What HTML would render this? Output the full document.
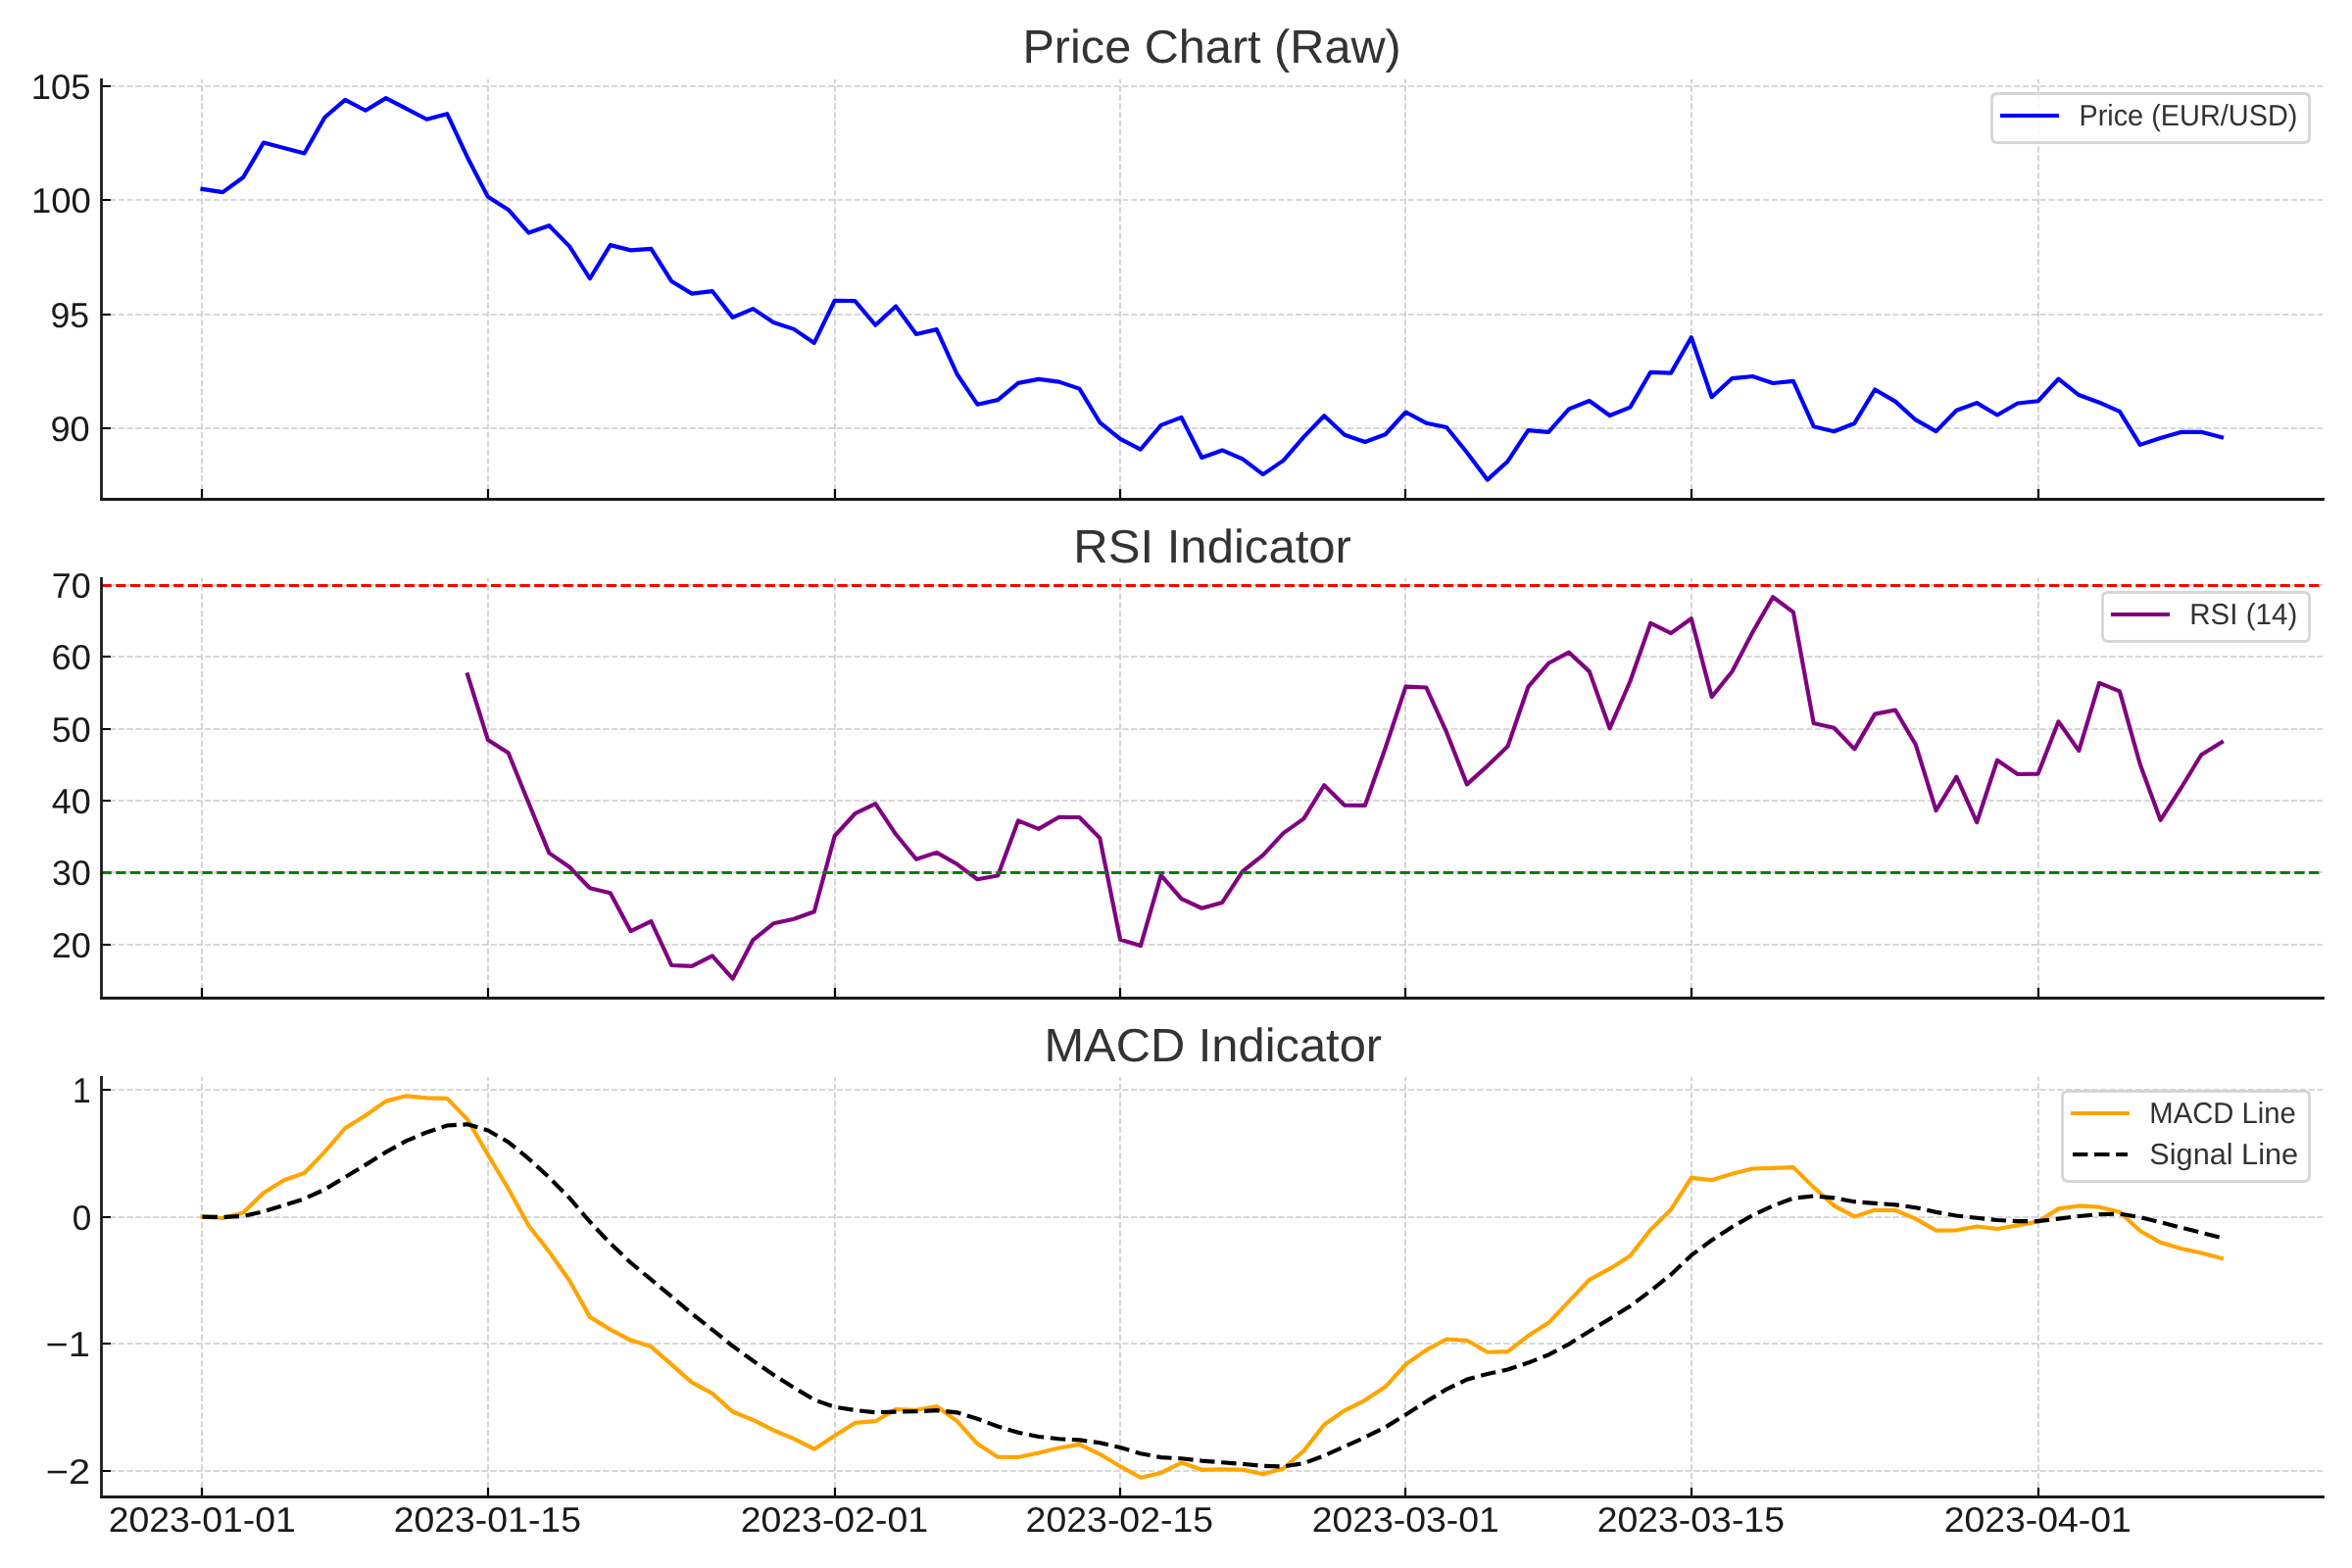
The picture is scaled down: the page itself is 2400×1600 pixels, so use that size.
<!DOCTYPE html>
<html lang="en">
<head>
<meta charset="utf-8">
<title>Price / RSI / MACD chart</title>
<style>
html,body{margin:0;padding:0;background:#ffffff;}
body{width:2400px;height:1600px;overflow:hidden;}
svg{display:block;}
text{font-family:"Liberation Sans",sans-serif;white-space:pre;text-rendering:geometricPrecision;}
.g{stroke:#cccccc;stroke-width:1.6667;stroke-dasharray:6.1667 2.6667;fill:none;}
.k{stroke:#000000;stroke-width:2.2222;fill:none;}
.s{stroke:#1a1a1a;stroke-width:2.7778;stroke-linecap:square;fill:none;}
.d{fill:none;stroke-linejoin:round;}
.tx{will-change:opacity;filter:opacity(1);}
.t{fill:#333333;}
.l{fill:#1a1a1a;}
.lg{fill:#333333;}
.fr{fill:#ffffff;fill-opacity:0.8;stroke:#cccccc;stroke-opacity:0.8;stroke-width:2.7778;stroke-linejoin:miter;}
</style>
</head>
<body>
<svg width="2400" height="1600" viewBox="0 0 2400 1600">
<rect x="0" y="0" width="2400" height="1600" fill="#ffffff"/>
<!-- Price chart -->
<g>
<path class="g" d="M206 509V81M498 509V81M852 509V81M1143 509V81M1434 509V81M1726 509V81M2080 509V81"/>
<path class="k" d="M206 509V499M498 509V499M852 509V499M1143 509V499M1434 509V499M1726 509V499M2080 509V499"/>
<path class="g" d="M103 437H2370M103 321H2370M103 204H2370M103 88H2370"/>
<path class="k" d="M103 437H113M103 321H113M103 204H113M103 88H113"/>
<path class="d" stroke="#0000ff" stroke-width="4.1667" stroke-linecap="square" d="M206.5 192.9L227.31 196.12L248.12 181.04L268.93 145.58L289.75 151.03L310.56 156.48L331.37 119.71L352.19 101.84L373 112.77L393.81 100.14L414.63 110.93L435.44 121.77L456.25 116.14L477.06 160.69L497.88 200.85L518.69 213.95L539.5 237.53L560.32 230.21L581.13 251.35L601.94 284.24L622.75 250.11L643.57 255.37L664.38 253.8L685.19 286.97L706.01 299.65L726.82 297.06L747.63 323.86L768.45 315.11L789.26 329.1L810.07 335.89L830.88 349.9L851.7 306.77L872.51 307.09L893.32 331.72L914.14 312.56L934.95 340.99L955.76 336.13L976.57 381.76L997.39 412.68L1018.2 408.1L1039.01 390.9L1059.83 386.91L1080.64 389.61L1101.45 396.62L1122.27 431.04L1143.08 447.8L1163.89 458.53L1184.7 433.91L1205.52 425.91L1226.33 466.96L1247.14 459.42L1267.96 468.38L1288.77 484.15L1309.58 469.9L1330.39 445.9L1351.21 424.21L1372.02 443.75L1392.83 450.95L1413.65 443.24L1434.46 420.53L1455.27 431.68L1476.08 436.01L1496.9 461.77L1517.71 489.62L1538.52 470.7L1559.34 439.12L1580.15 440.8L1600.96 417.43L1621.78 409.01L1642.59 424.03L1663.4 415.62L1684.21 379.81L1705.03 380.64L1725.84 344.21L1746.65 405.21L1767.47 386.07L1788.28 384.04L1809.09 391L1829.9 388.87L1850.72 435.15L1871.53 440.26L1892.34 431.95L1913.16 397.54L1933.97 409.6L1954.78 428.43L1975.6 440.11L1996.41 418.8L2017.22 411.14L2038.03 423.48L2058.85 411.53L2079.66 409.27L2100.47 386.71L2121.29 403.06L2142.1 410.69L2162.91 419.82L2183.72 453.89L2204.54 447L2225.35 440.92L2246.16 440.8L2266.98 446.26"/>
<path class="s" d="M103.5 509.5V81.5"/>
<path class="s" d="M103.5 509.5H2370.5"/>
</g>
<!-- RSI indicator -->
<g>
<path class="g" d="M206 1018V590M498 1018V590M852 1018V590M1143 1018V590M1434 1018V590M1726 1018V590M2080 1018V590"/>
<path class="k" d="M206 1018V1008M498 1018V1008M852 1018V1008M1143 1018V1008M1434 1018V1008M1726 1018V1008M2080 1018V1008"/>
<path class="g" d="M103 964H2370M103 890H2370M103 817H2370M103 744H2370M103 670H2370M103 597H2370"/>
<path class="k" d="M103 964H113M103 890H113M103 817H113M103 744H113M103 670H113M103 597H113"/>
<path class="d" stroke="#800080" stroke-width="4.1667" stroke-linecap="square" d="M477.06 688.45L497.88 755L518.69 768.27L539.5 819.46L560.32 870.35L581.13 884.81L601.94 906.32L622.75 911.22L643.57 950.08L664.38 940L685.19 984.99L706.01 985.82L726.82 975.28L747.63 998.71L768.45 959.05L789.26 942.29L810.07 937.69L830.88 930.2L851.7 852.99L872.51 830.24L893.32 820.08L914.14 851.3L934.95 876.77L955.76 869.89L976.57 881.8L997.39 897.28L1018.2 893.45L1039.01 837.37L1059.83 845.88L1080.64 833.74L1101.45 833.98L1122.27 855.15L1143.08 958.78L1163.89 965.08L1184.7 893.06L1205.52 917.08L1226.33 926.76L1247.14 920.98L1267.96 889.14L1288.77 872.61L1309.58 850.1L1330.39 835.42L1351.21 801.22L1372.02 821.72L1392.83 821.94L1413.65 763.21L1434.46 700.7L1455.27 701.46L1476.08 747.14L1496.9 800.37L1517.71 781.62L1538.52 761.57L1559.34 700.98L1580.15 676.77L1600.96 665.69L1621.78 685.14L1642.59 743.25L1663.4 695.29L1684.21 635.91L1705.03 646.08L1725.84 631.26L1746.65 711.07L1767.47 685.19L1788.28 645.3L1809.09 609.23L1829.9 624.69L1850.72 738.09L1871.53 742.82L1892.34 764.37L1913.16 728.6L1933.97 724.55L1954.78 759.8L1975.6 827.04L1996.41 792.59L2017.22 839.2L2038.03 775.76L2058.85 790.03L2079.66 789.55L2100.47 736.28L2121.29 766.09L2142.1 696.88L2162.91 705.34L2183.72 779.81L2204.54 836.82L2225.35 804.48L2246.16 770.27L2266.98 757.34"/>
<path class="d" stroke="#ff0000" stroke-width="2.7778" stroke-dasharray="10.2778 4.4444" stroke-linecap="butt" d="M103.5 597.5L2370.5 597.5"/>
<path class="d" stroke="#008000" stroke-width="2.7778" stroke-dasharray="10.2778 4.4444" stroke-linecap="butt" d="M103.5 890.5L2370.5 890.5"/>
<path class="s" d="M103.5 1018.5V590.5"/>
<path class="s" d="M103.5 1018.5H2370.5"/>
</g>
<!-- MACD indicator -->
<g>
<path class="g" d="M206 1527V1099M498 1527V1099M852 1527V1099M1143 1527V1099M1434 1527V1099M1726 1527V1099M2080 1527V1099"/>
<path class="k" d="M206 1527V1518M498 1527V1518M852 1527V1518M1143 1527V1518M1434 1527V1518M1726 1527V1518M2080 1527V1518"/>
<path class="g" d="M103 1501H2370M103 1371H2370M103 1242H2370M103 1112H2370"/>
<path class="k" d="M103 1501H113M103 1371H113M103 1242H113M103 1112H113"/>
<path class="d" stroke="#ffa500" stroke-width="4.1667" stroke-linecap="square" d="M206.5 1241.6L227.31 1243.03L248.12 1237.43L268.93 1217.35L289.75 1204.31L310.56 1196.94L331.37 1175.35L352.19 1151.25L373 1138.26L393.81 1123.64L414.63 1118.33L435.44 1120.38L456.25 1120.87L477.06 1142.42L497.88 1178.26L518.69 1212.88L539.5 1250.81L560.32 1277.17L581.13 1306.8L601.94 1343.88L622.75 1356.61L643.57 1367.61L664.38 1374.09L685.19 1392.39L706.01 1410.64L726.82 1421.86L747.63 1440.51L768.45 1448.96L789.26 1459.43L810.07 1468.17L830.88 1478.65L851.7 1465.01L872.51 1451.92L893.32 1450.2L914.14 1437.97L934.95 1438.78L955.76 1435L976.57 1450.1L997.39 1473.29L1018.2 1486.79L1039.01 1486.93L1059.83 1482.47L1080.64 1477.43L1101.45 1473.9L1122.27 1483.78L1143.08 1496.21L1163.89 1507.8L1184.7 1502.92L1205.52 1492.57L1226.33 1499.83L1247.14 1499.22L1267.96 1499.79L1288.77 1504.29L1309.58 1498.5L1330.39 1480.38L1351.21 1453.83L1372.02 1439.29L1392.83 1428.84L1413.65 1415.09L1434.46 1392.25L1455.27 1377.6L1476.08 1366.49L1496.9 1367.81L1517.71 1379.76L1538.52 1379.16L1559.34 1363.09L1580.15 1349.86L1600.96 1327.89L1621.78 1305.95L1642.59 1294.7L1663.4 1281.54L1684.21 1254.87L1705.03 1234.2L1725.84 1201.91L1746.65 1204.15L1767.47 1197.83L1788.28 1192.48L1809.09 1191.94L1829.9 1191.14L1850.72 1211.63L1871.53 1230.3L1892.34 1241.37L1913.16 1234.76L1933.97 1235.01L1954.78 1243.65L1975.6 1255.58L1996.41 1255.31L2017.22 1251.53L2038.03 1253.94L2058.85 1250.38L2079.66 1246.49L2100.47 1233.37L2121.29 1230.44L2142.1 1231.66L2162.91 1236.78L2183.72 1255.99L2204.54 1267.81L2225.35 1274.07L2246.16 1278.55L2266.98 1284.07"/>
<path class="d" stroke="#000000" stroke-width="4.1667" stroke-dasharray="15.4167 6.6667" stroke-linecap="butt" d="M206.5 1241.6L227.31 1241.88L248.12 1240.99L268.93 1236.27L289.75 1229.87L310.56 1223.29L331.37 1213.7L352.19 1201.21L373 1188.62L393.81 1175.62L414.63 1164.16L435.44 1155.41L456.25 1148.5L477.06 1147.28L497.88 1153.48L518.69 1165.36L539.5 1182.45L560.32 1201.39L581.13 1222.48L601.94 1246.76L622.75 1268.73L643.57 1288.5L664.38 1305.62L685.19 1322.97L706.01 1340.51L726.82 1356.78L747.63 1373.52L768.45 1388.61L789.26 1402.77L810.07 1415.85L830.88 1428.41L851.7 1435.73L872.51 1438.97L893.32 1441.22L914.14 1440.57L934.95 1440.21L955.76 1439.17L976.57 1441.36L997.39 1447.74L1018.2 1455.55L1039.01 1461.83L1059.83 1465.96L1080.64 1468.25L1101.45 1469.38L1122.27 1472.26L1143.08 1477.05L1163.89 1483.2L1184.7 1487.15L1205.52 1488.23L1226.33 1490.55L1247.14 1492.28L1267.96 1493.79L1288.77 1495.89L1309.58 1496.41L1330.39 1493.2L1351.21 1485.33L1372.02 1476.12L1392.83 1466.66L1413.65 1456.35L1434.46 1443.53L1455.27 1430.34L1476.08 1417.57L1496.9 1407.62L1517.71 1402.05L1538.52 1397.47L1559.34 1390.59L1580.15 1382.45L1600.96 1371.54L1621.78 1358.42L1642.59 1345.67L1663.4 1332.85L1684.21 1317.25L1705.03 1300.64L1725.84 1280.89L1746.65 1265.55L1767.47 1252L1788.28 1240.1L1809.09 1230.47L1829.9 1222.6L1850.72 1220.41L1871.53 1222.39L1892.34 1226.18L1913.16 1227.9L1933.97 1229.32L1954.78 1232.19L1975.6 1236.87L1996.41 1240.55L2017.22 1242.75L2038.03 1244.99L2058.85 1246.07L2079.66 1246.15L2100.47 1243.59L2121.29 1240.96L2142.1 1239.1L2162.91 1238.64L2183.72 1242.11L2204.54 1247.25L2225.35 1252.61L2246.16 1257.8L2266.98 1263.05"/>
<path class="s" d="M103.5 1527.5V1099.5"/>
<path class="s" d="M103.5 1527.5H2370.5"/>
</g>
<!-- tick labels and titles -->
<g class="tx">
<text class="t" font-size="47.8" transform="translate(1043.38 64) scale(1.0174 1)">Price Chart (Raw)</text>
<text class="l" font-size="35.9" transform="translate(51.47 450) scale(1.0075 1)">90</text>
<text class="l" font-size="35.9" transform="translate(51.43 334) scale(0.9938 1)">95</text>
<text class="l" font-size="35.9" transform="translate(31.94 217) scale(1.0172 1)">100</text>
<text class="l" font-size="35.9" transform="translate(31.74 101) scale(1.0154 1)">105</text>
<text class="t" font-size="47.8" transform="translate(1095.28 574) scale(1.0267 1)">RSI Indicator</text>
<text class="l" font-size="35.9" transform="translate(52.67 977) scale(1.0042 1)">20</text>
<text class="l" font-size="35.9" transform="translate(53.1 903) scale(0.9916 1)">30</text>
<text class="l" font-size="35.9" transform="translate(52.72 830) scale(1.0011 1)">40</text>
<text class="l" font-size="35.9" transform="translate(52.79 757) scale(0.9990 1)">50</text>
<text class="l" font-size="35.9" transform="translate(52.48 683) scale(1.0097 1)">60</text>
<text class="l" font-size="35.9" transform="translate(52.79 610) scale(0.9994 1)">70</text>
<text class="t" font-size="47.8" transform="translate(1065.43 1083) scale(1.0217 1)">MACD Indicator</text>
<text class="l" font-size="35.9" transform="translate(46.65 1514) scale(1.1104 1)">−2</text>
<text class="l" font-size="35.9" transform="translate(46.62 1384) scale(1.1095 1)">−1</text>
<text class="l" font-size="35.9" transform="translate(73.87 1255) scale(0.9788 1)">0</text>
<text class="l" font-size="35.9" transform="translate(73.98 1125) scale(0.9378 1)">1</text>
<text class="l" font-size="35.9" transform="translate(110.63 1563) scale(1.0416 1)">2023-01-01</text>
<text class="l" font-size="35.9" transform="translate(401.63 1563) scale(1.0423 1)">2023-01-15</text>
<text class="l" font-size="35.9" transform="translate(755.63 1563) scale(1.0430 1)">2023-02-01</text>
<text class="l" font-size="35.9" transform="translate(1046.62 1563) scale(1.0431 1)">2023-02-15</text>
<text class="l" font-size="35.9" transform="translate(1338.63 1563) scale(1.0416 1)">2023-03-01</text>
<text class="l" font-size="35.9" transform="translate(1629.63 1563) scale(1.0423 1)">2023-03-15</text>
<text class="l" font-size="35.9" transform="translate(1983.63 1563) scale(1.0416 1)">2023-04-01</text>
</g>
<!-- legend 1 -->
<g>
<path class="fr" d="M2038.5 95.5H2351.5Q2356.5 95.5 2356.5 100.5V139.5Q2356.5 145.5 2351.5 145.5H2038.5Q2032.5 145.5 2032.5 139.5V100.5Q2032.5 95.5 2038.5 95.5Z"/>
<path class="d" stroke="#0000ff" stroke-width="4.1667" stroke-linecap="square" d="M2043 118H2099"/>
<g class="tx">
<text class="lg" font-size="30.3" transform="translate(2121.38 128) scale(0.9533 1)">Price (EUR/USD)</text>
</g>
</g>
<!-- legend 2 -->
<g>
<path class="fr" d="M2151.5 604.5H2351.5Q2356.5 604.5 2356.5 609.5V648.5Q2356.5 654.5 2351.5 654.5H2151.5Q2145.5 654.5 2145.5 648.5V609.5Q2145.5 604.5 2151.5 604.5Z"/>
<path class="d" stroke="#800080" stroke-width="4.1667" stroke-linecap="square" d="M2156 627H2212"/>
<g class="tx">
<text class="lg" font-size="30.3" transform="translate(2234.28 637) scale(0.9755 1)">RSI (14)</text>
</g>
</g>
<!-- legend 3 -->
<g>
<path class="fr" d="M2110.5 1113.5H2351.5Q2356.5 1113.5 2356.5 1118.5V1199.5Q2356.5 1205.5 2351.5 1205.5H2110.5Q2104.5 1205.5 2104.5 1199.5V1118.5Q2104.5 1113.5 2110.5 1113.5Z"/>
<path class="d" stroke="#ffa500" stroke-width="4.1667" stroke-linecap="square" d="M2115 1136H2171"/>
<path class="d" stroke="#000000" stroke-width="4.1667" stroke-dasharray="15.4167 6.6667" stroke-linecap="butt" d="M2115 1178H2171"/>
<g class="tx">
<text class="lg" font-size="30.3" transform="translate(2193.33 1146) scale(0.9646 1)">MACD Line</text>
<text class="lg" font-size="30.3" transform="translate(2193.29 1188) scale(1.0127 1)">Signal Line</text>
</g>
</g>
</svg>
</body>
</html>
